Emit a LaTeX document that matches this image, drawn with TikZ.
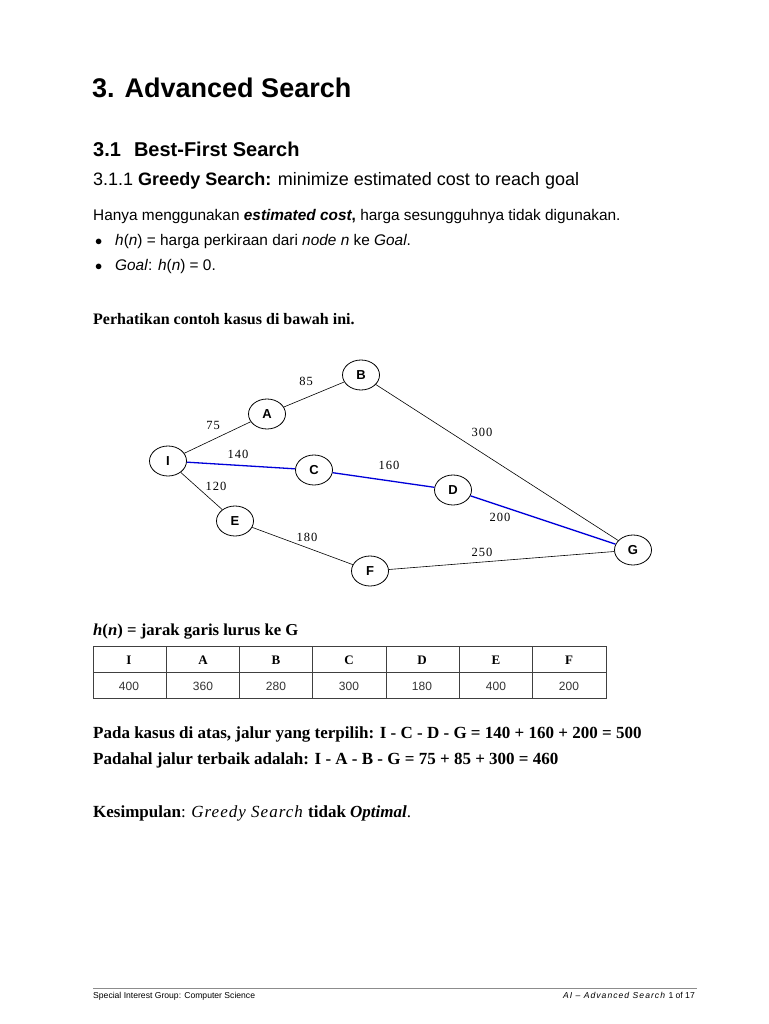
\documentclass[tikz,border=0pt]{standalone}
\usepackage{fontspec}
\setmainfont{Liberation Serif}
\setsansfont{Liberation Sans}
\newfontfamily\costfont[LetterSpace=8]{Liberation Serif}
\usetikzlibrary{shapes.geometric}

\begin{document}
\begin{tikzpicture}[x=1pt,y=-1pt,
  txt/.style={anchor=base west,inner sep=0pt},
  body/.style={txt,font=\sffamily\fontsize{15.4}{17}\selectfont},
  serifline/.style={txt,font=\bfseries\fontsize{17}{20}\selectfont},
  vertex/.style={draw,line width=0.8pt,ellipse,minimum width=37pt,minimum height=30pt,inner sep=0pt,fill=white,font=\sffamily\bfseries\fontsize{13}{15}\selectfont},
  cost/.style={inner sep=0pt,font=\costfont\fontsize{12.5}{14}\selectfont},
  edge/.style={black,line width=0.6pt},
  chosen/.style={blue!85!black,line width=1.3pt},
  rule/.style={black!75,line width=0.9pt},
  cell/.style={inner sep=0pt,anchor=base},
  head/.style={cell,font=\bfseries\fontsize{13}{15}\selectfont},
  val/.style={cell,font=\sffamily\fontsize{12}{14}\selectfont,black!80}]
\useasboundingbox (0,0) rectangle (768,1024);
\fill[white] (0,0) rectangle (768,1024);
% heading and text above the graph
\node[txt,font=\sffamily\bfseries\fontsize{27}{30}\selectfont] (title) at (92,98) {3. Advanced Search};
\node[txt,font=\sffamily\bfseries\fontsize{20}{24}\selectfont] (sec) at (93,157) {3.1\hspace{13pt}Best-First Search};
\node[txt,font=\sffamily\fontsize{18}{20}\selectfont] (subsec) at (93,186) {3.1.1 \textbf{Greedy Search:} minimize estimated cost to reach goal};
\node[body] (intro) at (93,221) {Hanya menggunakan \textbf{\textit{estimated cost},} harga sesungguhnya tidak digunakan.};
\node[body] (dot1) at (95,245) {$\bullet$};
\node[body] (item1) at (115,245) {\textit{h}(\textit{n}) = harga perkiraan dari \textit{node n} ke \textit{Goal}.};
\node[body] (dot2) at (95,270) {$\bullet$};
\node[body] (item2) at (115,270) {\textit{Goal}: \textit{h}(\textit{n}) = 0.};
\node[txt,font=\bfseries\fontsize{16}{19}\selectfont] (look) at (93,324) {Perhatikan contoh kasus di bawah ini.};
% graph
\coordinate (pI) at (168,461);
\coordinate (pA) at (267,414);
\coordinate (pB) at (361,375);
\coordinate (pC) at (314,470);
\coordinate (pD) at (453,490);
\coordinate (pE) at (235,521);
\coordinate (pF) at (370,571);
\coordinate (pG) at (633,550);
\node[vertex] (I) at (pI) {I};
\node[vertex] (A) at (pA) {A};
\node[vertex] (B) at (pB) {B};
\node[vertex] (C) at (pC) {C};
\node[vertex] (D) at (pD) {D};
\node[vertex] (E) at (pE) {E};
\node[vertex] (F) at (pF) {F};
\node[vertex] (G) at (pG) {G};
\draw[edge] (I) -- (A);
\draw[edge] (A) -- (B);
\draw[edge] (B) -- (G);
\draw[edge] (I) -- (E);
\draw[edge] (E) -- (F);
\draw[edge] (F) -- (G);
\draw[chosen] (I) -- (C);
\draw[chosen] (C) -- (D);
\draw[chosen] (D) -- (G);
\node[cost] (wAB) at (306,381) {85};
\node[cost] (wIA) at (213,425) {75};
\node[cost] (wIC) at (238,454) {140};
\node[cost] (wIE) at (216,486) {120};
\node[cost] (wCD) at (389,465) {160};
\node[cost] (wBG) at (482,432) {300};
\node[cost] (wDG) at (500,517) {200};
\node[cost] (wEF) at (307,537) {180};
\node[cost] (wFG) at (482,552) {250};
% table of h(n)
\node[txt,font=\bfseries\fontsize{16.7}{19}\selectfont] (hn) at (93,635) {\textit{h}(\textit{n}) = jarak garis lurus ke G};
\draw[rule] (93,646) rectangle (606,698);
\draw[rule] (93,672) -- (606,672);
\draw[rule] (166,646) -- (166,698);
\draw[rule] (239,646) -- (239,698);
\draw[rule] (312,646) -- (312,698);
\draw[rule] (386,646) -- (386,698);
\draw[rule] (459,646) -- (459,698);
\draw[rule] (532,646) -- (532,698);
\node[head] (hI) at (129,664) {I};
\node[head] (hA) at (203,664) {A};
\node[head] (hB) at (276,664) {B};
\node[head] (hC) at (349,664) {C};
\node[head] (hD) at (422,664) {D};
\node[head] (hE) at (496,664) {E};
\node[head] (hF) at (569,664) {F};
\node[val] (vI) at (129,690) {400};
\node[val] (vA) at (203,690) {360};
\node[val] (vB) at (276,690) {280};
\node[val] (vC) at (349,690) {300};
\node[val] (vD) at (422,690) {180};
\node[val] (vE) at (496,690) {400};
\node[val] (vF) at (569,690) {200};
% conclusion
\node[serifline] (picked) at (93,738) {Pada kasus di atas, jalur yang terpilih: I - C - D - G = 140 + 160 + 200 = 500};
\node[serifline] (best) at (93,764) {Padahal jalur terbaik adalah: I - A - B - G = 75 + 85 + 300 = 460};
\node[serifline] (concl) at (93,817) {Kesimpulan\textmd{: {\addfontfeature{LetterSpace=6}\itshape Greedy Search}} tidak \textit{Optimal}\textmd{.}};
% footer
\draw[black!45,line width=0.8pt] (93,988) -- (697,988);
\node[txt,font=\sffamily\fontsize{8.6}{10}\selectfont] (foot) at (93,998) {Special Interest Group: Computer Science};
\node[anchor=base east,inner sep=0pt,font=\sffamily\fontsize{8.6}{10}\selectfont] (page) at (695,998) {{\addfontfeature{LetterSpace=12}\textit{AI -- Advanced Search}} 1 of 17};
\end{tikzpicture}
\end{document}
